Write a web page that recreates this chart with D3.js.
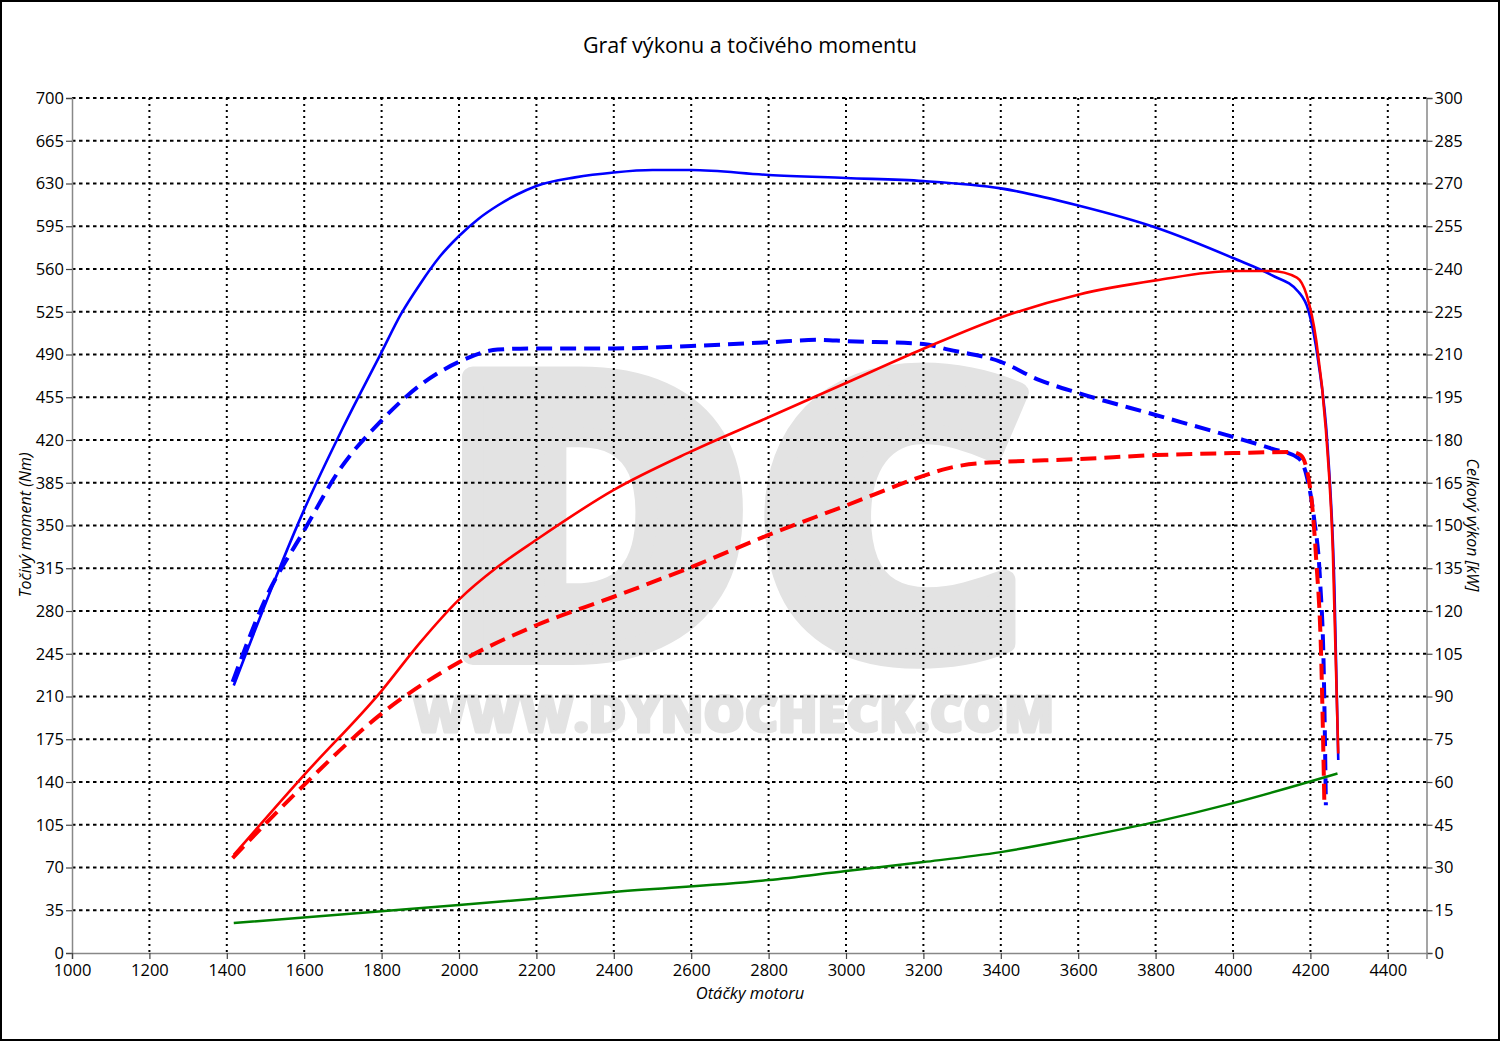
<!DOCTYPE html>
<html><head><meta charset="utf-8">
<script src="https://cdn.jsdelivr.net/npm/d3@7"></script>
<style>body{margin:0;background:#fff}svg{display:block}text{font-family:"Open Sans","Noto Sans",sans-serif}</style>
</head><body>
<svg id="c" width="1500" height="1041"></svg>
<script>
// Tuned torque (Nm)
const tqTunedRpm = [1418,1600,1700,1800,1850,1900,1950,2000,2050,2100,2150,2200,2300,2400,2500,2600,2800,3000,3200,3400,3600,3800,4000,4100,4170,4195,4220,4245,4262,4272];
const tqTuned    = [219,363,430,492,523,548,570,587,601,612,621,628,635,639,641,641,637,634.5,632,626,612,594,569,555,541,526,485,412,300,158];
// Stock torque (Nm)
const tqStockRpm = [1415,1500,1600,1690,1800,1900,2000,2100,2200,2400,2600,2800,2930,3000,3200,3265,3400,3500,3600,3800,4000,4100,4170,4190,4210,4225,4235,4240];
const tqStock    = [222,290,346,395,436,465,484,494,495,495,497,500,502,501,498.6,494,484,469,458.5,440.5,422.5,413,405,391,354.5,305,223.5,121];
// Tuned power (kW)
const pwTunedRpm = [1418,1600,1800,1900,2000,2100,2200,2400,2600,2800,3000,3200,3400,3600,3800,4000,4100,4165,4190,4215,4240,4258,4272];
const pwTuned    = [34.4,62.5,92,109,124,135.5,145,162.5,176,188,200,212,223,231,236,239.3,239.3,237,231,215,183.5,141,70];
// Stock power (kW)
const pwStockRpm = [1415,1600,1800,2000,2200,2400,2600,2800,3000,3200,3250,3300,3350,3400,3600,3800,4000,4150,4175,4200,4215,4228,4236];
const pwStock    = [33.3,59,84,102,115,125,135.4,146.7,157,167.4,169.6,171.1,171.9,172.3,173.3,174.7,175.4,175.8,174.7,162.5,138,103,53];
// Losses (kW)
const lossRpm = [1418,2000,2400,2800,3000,3200,3400,3600,3800,4000,4270];
const loss    = [10.5,16.8,21.4,25.6,28.8,31.9,35.4,40.4,46,52.6,63];

const xTicks = d3.range(1000, 4401, 200);
const yLeftTicks = d3.range(0, 701, 35);
const yRightTicks = d3.range(0, 301, 15);

const svg = d3.select("#c");
const L = 72, R = 1426.5, T = 98, B = 953;
const x = d3.scaleLinear().domain([1000, 4500]).range([L, R]);
const yL = d3.scaleLinear().domain([0, 700]).range([B, T]);
const yR = d3.scaleLinear().domain([0, 300]).range([B, T]);

svg.append("rect").attr("x",1).attr("y",1).attr("width",1498).attr("height",1039).attr("fill","#fff").attr("stroke","#000").attr("stroke-width",2);

// watermark
const wm = "#e3e3e3";
svg.append("text").attr("x",440).attr("y",655).attr("font-family","Roboto, Inter, sans-serif").attr("font-weight",900)
  .attr("font-size",390).attr("textLength",591).attr("lengthAdjust","spacingAndGlyphs")
  .attr("fill",wm).attr("stroke",wm).attr("stroke-width",20).attr("stroke-linejoin","round").text("DC");
svg.append("text").attr("x",413).attr("y",732).attr("font-family","Roboto, Inter, sans-serif").attr("font-weight",900)
  .attr("font-size",49).attr("textLength",641).attr("lengthAdjust","spacingAndGlyphs")
  .attr("fill",wm).attr("stroke",wm).attr("stroke-width",3).attr("stroke-linejoin","round").text("WWW.DYNOCHECK.COM");

// grid
const g = svg.append("g");
g.selectAll(".vg").data(xTicks.filter(d=>d>1000)).join("line")
  .attr("x1",d=>x(d)).attr("x2",d=>x(d)).attr("y1",T).attr("y2",B)
  .attr("stroke","#000").attr("stroke-width",2).attr("stroke-dasharray","2,4");
g.selectAll(".hg").data(yLeftTicks.filter(d=>d>0)).join("line")
  .attr("x1",L).attr("x2",R).attr("y1",d=>yL(d)).attr("y2",d=>yL(d))
  .attr("stroke","#000").attr("stroke-width",2).attr("stroke-dasharray","3.5,3.5");

// axes
const axL = d3.axisLeft(yL).tickValues(yLeftTicks).tickSize(6).tickPadding(2);
const axR = d3.axisRight(yR).tickValues(yRightTicks).tickSize(6).tickPadding(2);
const axB = d3.axisBottom(x).tickValues(xTicks).tickFormat(d3.format("d")).tickSize(6).tickPadding(5);
function style(sel){
  sel.select(".domain").attr("stroke","#888").attr("stroke-width",1.5);
  sel.selectAll(".tick line").attr("stroke","#444").attr("stroke-width",1.2);
  sel.selectAll("text").attr("font-size",16.5).attr("fill","#000").attr("font-family","'Open Sans','Noto Sans',sans-serif");
}
svg.append("g").attr("transform",`translate(${L},0)`).call(axL).call(style);
svg.append("g").attr("transform",`translate(${R},0)`).call(axR).call(style);
svg.append("g").attr("transform",`translate(0,${B})`).call(axB).call(style);

// lines
const lineL = d3.line().x(d=>x(d[0])).y(d=>yL(d[1])).curve(d3.curveMonotoneX);
const lineR = d3.line().x(d=>x(d[0])).y(d=>yR(d[1])).curve(d3.curveMonotoneX);
const zip = (a,b)=>a.map((v,i)=>[v,b[i]]);

svg.append("path").attr("d",lineL(zip(tqStockRpm,tqStock))).attr("fill","none").attr("stroke","#0000ff").attr("stroke-width",4).attr("stroke-dasharray","16,8");
svg.append("path").attr("d",lineR(zip(pwStockRpm,pwStock))).attr("fill","none").attr("stroke","#ff0000").attr("stroke-width",4).attr("stroke-dasharray","16,8");
svg.append("path").attr("d",lineR(zip(lossRpm,loss))).attr("fill","none").attr("stroke","#008000").attr("stroke-width",2.5);
svg.append("path").attr("d",lineL(zip(tqTunedRpm,tqTuned))).attr("fill","none").attr("stroke","#0000ff").attr("stroke-width",2.6);
svg.append("path").attr("d",lineR(zip(pwTunedRpm,pwTuned))).attr("fill","none").attr("stroke","#ff0000").attr("stroke-width",2.6);

// titles
svg.append("text").attr("x",750).attr("y",53).attr("text-anchor","middle").attr("font-size",21.5).text("Graf výkonu a točivého momentu");
svg.append("text").attr("x",750).attr("y",999).attr("text-anchor","middle").attr("font-size",16.5).attr("font-style","italic").text("Otáčky motoru");
svg.append("text").attr("transform","translate(31,525) rotate(-90)").attr("text-anchor","middle").attr("font-size",16).attr("font-style","italic").text("Točivý moment (Nm)");
svg.append("text").attr("transform","translate(1467,525) rotate(90)").attr("text-anchor","middle").attr("font-size",16).attr("font-style","italic").text("Celkový výkon [kW]");
</script>
</body></html>
